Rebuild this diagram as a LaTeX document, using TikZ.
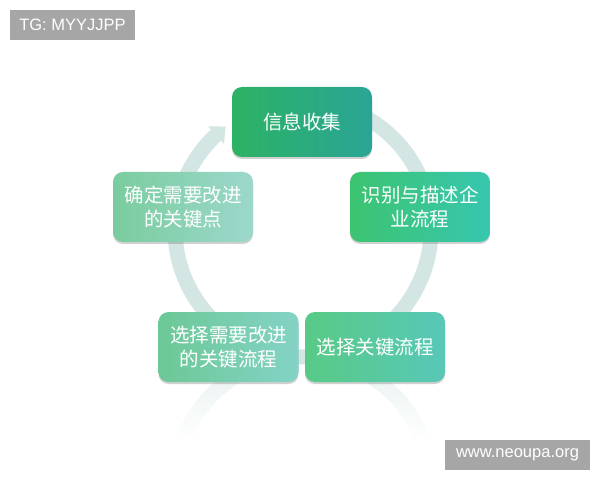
\documentclass[tikz,border=0pt]{standalone}
\usepackage{fontspec}
\setmainfont{Liberation Sans}
\newfontfamily\cjk{Noto Sans CJK SC}
\usepackage{tikz}
\usetikzlibrary{
    arrows.meta,
    bending,
    positioning,
    shadows
}
\usepackage{xcolor}
\definecolor{ringgray}{RGB}{211,230,227}
\definecolor{taggray}{RGB}{166,166,166}
\definecolor{stepAleft}{RGB}{44,178,100}
\definecolor{stepAright}{RGB}{42,165,150}
\definecolor{stepBleft}{RGB}{60,196,112}
\definecolor{stepBright}{RGB}{56,198,176}
\definecolor{stepCleft}{RGB}{88,202,134}
\definecolor{stepCright}{RGB}{88,200,184}
\definecolor{stepDleft}{RGB}{108,200,150}
\definecolor{stepDright}{RGB}{132,211,198}
\definecolor{stepEleft}{RGB}{122,204,158}
\definecolor{stepEright}{RGB}{156,216,204}

\begin{document}
\begin{tikzpicture}[
    x=1pt, y=1pt,
    stepbox/.style={
        rectangle, rounded corners=10pt,
        minimum width=140pt, minimum height=70pt,
        align=center, text=white,
        font=\cjk\fontsize{19.5}{23.5}\selectfont,
        drop shadow={shadow xshift=0pt, shadow yshift=-2pt, opacity=0.3, fill=black!60}
    },
    tag/.style={
        rectangle, fill=taggray, text=white,
        minimum height=30pt, inner sep=0pt,
        font=\fontsize{16.5}{18}\selectfont
    },
    ring/.style={draw=ringgray, line width=15pt}
]

% Page (600 x 480)
\fill[white] (0,0) rectangle (600,480);
\coordinate (hub) at (303,251);
\coordinate (mirror) at (303,-5);

% Cycle ring with arrow head
\draw[ring, -{Triangle[width=23pt, length=13pt, bend]}]
    (hub) ++(95:128) arc[start angle=95, end angle=-233, radius=128];

% Faded reflection under the lower boxes
\foreach \k in {0,...,13} {
    \pgfmathsetmacro\fadepct{40*(1-\k/14)}
    \begin{scope}
        \clip (150,{98-4*\k}) rectangle (460,{94-4*\k});
        \draw[ring, draw=ringgray!\fadepct] (mirror) circle[radius=128];
    \end{scope}
}

% Steps (clockwise from top)
\node[stepbox, left color=stepAleft, right color=stepAright] (collect) at (302,358) {信息收集};
\node[stepbox, left color=stepBleft, right color=stepBright] (describe) at (420,273) {识别与描述企\\业流程};
\node[stepbox, left color=stepCleft, right color=stepCright] (select) at (375,133) {选择关键流程};
\node[stepbox, left color=stepDleft, right color=stepDright] (improve) at (228.5,133) {选择需要改进\\的关键流程};
\node[stepbox, left color=stepEleft, right color=stepEright] (keypoint) at (183,273) {确定需要改进\\的关键点};

% Corner tags
\node[tag, minimum width=125pt] (tg) at (72.5,455) {TG: MYYJJPP};
\node[tag, minimum width=145pt] (site) at (517.5,25) {www.neoupa.org};

\end{tikzpicture}
\end{document}
